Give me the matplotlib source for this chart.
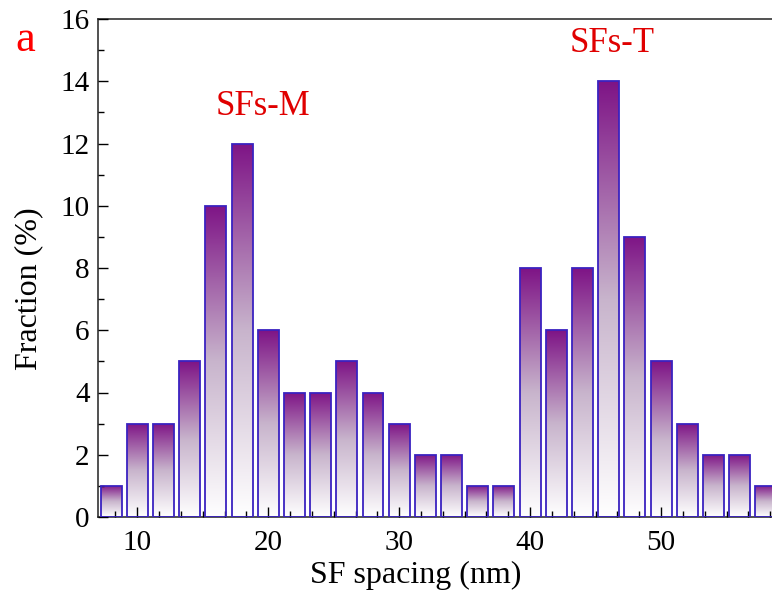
import numpy as np
import matplotlib
matplotlib.use("Agg")
import matplotlib.pyplot as plt
from matplotlib.colors import LinearSegmentedColormap
from matplotlib.ticker import AutoMinorLocator

plt.rcParams['font.family'] = ['Liberation Serif', 'DejaVu Serif']

# SF spacing bins (nm) and fraction (%)
spacing = [8, 10, 12, 14, 16, 18, 20, 22, 24, 26, 28, 30, 32,
           34, 36, 38, 40, 42, 44, 46, 48, 50, 52, 54, 56, 58]
fraction = [1, 3, 3, 5, 10, 12, 6, 4, 4, 5, 4, 3, 2,
            2, 1, 1, 8, 6, 8, 14, 9, 5, 3, 2, 2, 1]
xticks = [10, 20, 30, 40, 50]
yticks = [0, 2, 4, 6, 8, 10, 12, 14, 16]

fig = plt.figure(figsize=(7.72, 6), dpi=100)
# right edge of axes lies outside the figure (original is cropped)
ax = fig.add_axes([98 / 772, 83 / 600, (792 - 98) / 772, 498 / 600])

cmap = LinearSegmentedColormap.from_list("grad", ["#ffffff", "#c8b4cc", "#7e1486"])
grad = np.linspace(0, 1, 256).reshape(-1, 1)

bars = ax.bar(spacing, fraction, width=1.6, facecolor='none',
              edgecolor='#3a22c0', linewidth=1.3, zorder=3)
for b in bars:
    x0, y0 = b.get_x(), b.get_y()
    w, h = b.get_width(), b.get_height()
    im = ax.imshow(grad, cmap=cmap, origin='lower', aspect='auto',
                   extent=(x0, x0 + w, y0, y0 + h), zorder=2)
    im.set_clip_path(b)

ax.set_xlim(7, 60)
ax.set_ylim(0, 16)
ax.set_xticks(xticks)
ax.set_yticks(yticks)
ax.xaxis.set_minor_locator(AutoMinorLocator(6))
ax.yaxis.set_minor_locator(AutoMinorLocator(2))
ax.tick_params(which='both', direction='in', width=1, colors='black', labelsize=21)
ax.tick_params(which='major', length=7)
ax.tick_params(which='minor', length=4)
ax.tick_params(axis='x', pad=9)
ax.tick_params(axis='y', pad=6)
for s in ax.spines.values():
    s.set_linewidth(1.1)
    s.set_color('#222222')
ax.set_axisbelow(False)

ax.set_xlabel('SF spacing (nm)', fontsize=23, va='center')
ax.xaxis.set_label_coords(416 / 772, (600 - 575) / 600, transform=fig.transFigure)
ax.set_ylabel('Fraction (%)', fontsize=23, va='center')
ax.yaxis.set_label_coords(29 / 772, (600 - 289) / 600, transform=fig.transFigure)

fig.text(25 / 772, (600 - 40) / 600, 'a', color='red', fontsize=32,
         ha='center', va='center')
ax.text(19.6, 13.2, 'SFs-M', color='#e00000', fontsize=25, ha='center', va='center')
ax.text(46.3, 15.2, 'SFs-T', color='#e00000', fontsize=25, ha='center', va='center')

fig.savefig('out.png', dpi=100)
